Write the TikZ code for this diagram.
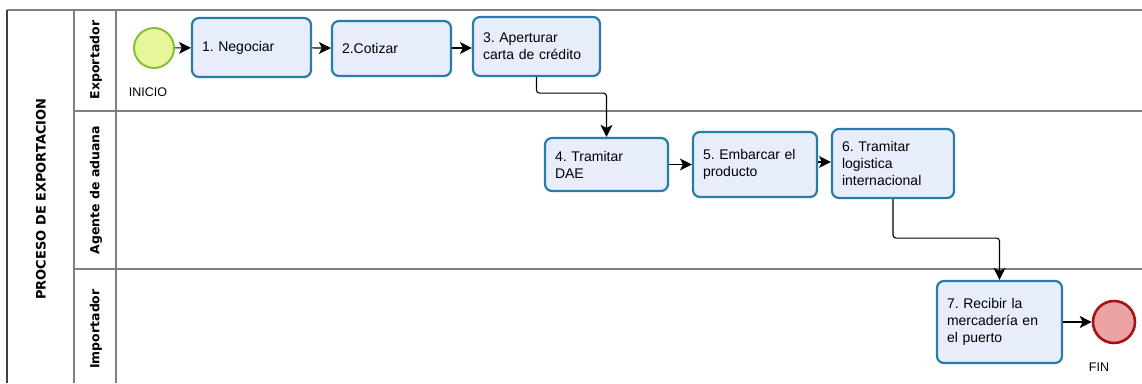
\documentclass[tikz,border=0pt]{standalone}
\usepackage{fontspec}
\setmainfont{Liberation Sans}
\newfontfamily\lanefont{DejaVu Sans}
\usetikzlibrary{arrows.meta,shapes.geometric}
\frenchspacing
\definecolor{taskfill}{RGB}{232,237,252}
\definecolor{taskborder}{RGB}{40,125,168}
\definecolor{startfill}{RGB}{229,246,155}
\definecolor{startborder}{RGB}{135,192,52}
\definecolor{endfill}{RGB}{236,163,163}
\definecolor{endborder}{RGB}{165,20,20}
\definecolor{poolline}{RGB}{128,128,128}
\tikzset{
  task/.style={draw=taskborder, line width=2.2pt, fill=taskfill, rounded corners=7pt,
    align=left, inner xsep=10pt, inner ysep=0pt,
    font=\fontsize{14}{17}\selectfont},
  flow/.style={draw=black, line width=1.1pt, rounded corners=3pt,
    -{Stealth[length=12pt,width=12pt,inset=3pt]}},
  lanelabel/.style={font=\lanefont\bfseries\fontsize{12.5}{14}\selectfont, rotate=90},
  evlabel/.style={font=\fontsize{12.5}{14}\selectfont, inner sep=0pt},
  poolln/.style={draw=poolline, line width=1.4pt},
}
\begin{document}
\begin{tikzpicture}[x=1pt,y=-1pt]
\useasboundingbox (0,0) rectangle (1142,383);
% pool frame
\draw[poolln] (7,10) -- (1142,10);
\draw[line width=1.4pt, draw=black!75] (7,10) -- (7,383);
\draw[poolln] (74,10) -- (74,383);
\draw[poolln] (116,10) -- (116,383);
\draw[poolln] (74,111) -- (1142,111);
\draw[poolln] (74,269) -- (1142,269);
% labels
\node[lanelabel, font=\lanefont\bfseries\fontsize{13}{15}\selectfont] (pool) at (41,199) {PROCESO DE EXPORTACION};
\node[lanelabel] (l1) at (96,60) {Exportador};
\node[lanelabel] (l2) at (96,190) {Agente de aduana};
\node[lanelabel] (l3) at (96,329) {Importador};
% events
\node[circle, draw=startborder, fill=startfill, line width=2pt, minimum size=40pt, inner sep=0pt] (s) at (154,48) {};
\node[evlabel] (inicio) at (148,92) {INICIO};
\node[circle, draw=endborder, fill=endfill, line width=2.6pt, minimum size=42pt, inner sep=0pt] (e) at (1114,322) {};
\node[evlabel] (fin) at (1099,367) {FIN};
% tasks
\node[task, minimum height=59pt, text width=99pt] (b1) at (251.5,47.5) {1. Negociar};
\node[task, minimum height=55pt, text width=99pt] (b2) at (391.5,48.5) {2.Cotizar};
\node[task, minimum height=59pt, text width=107pt] (b3) at (536.5,46.5) {3. Aperturar\\carta de crédito};
\node[task, minimum height=53pt, text width=103pt] (b4) at (606.5,164.5) {4. Tramitar\\DAE};
\node[task, minimum height=65pt, text width=104pt] (b5) at (755,164.5) {5. Embarcar el\\producto};
\node[task, minimum height=69pt, text width=102pt] (b6) at (893,163.5) {6. Tramitar\\logistica\\internacional};
\node[task, minimum height=82pt, text width=105pt] (b7) at (999.5,322) {7. Recibir la\\mercadería en\\el puerto};
% flows
\draw[flow] (s) -- (b1);
\draw[flow] (b1) -- (b2);
\draw[flow] (b2.east |- 0,48) -- (b3.west |- 0,48);
\draw[flow] (b3.south) -- ++(0,16) -| (b4.north);
\draw[flow] (b4) -- (b5);
\draw[flow] (b5.east |- 0,162) -- (b6.west |- 0,162);
\draw[flow] (b6.south) -- ++(0,39) -| (b7.north);
\draw[flow] (b7) -- (e);
\end{tikzpicture}
\end{document}
